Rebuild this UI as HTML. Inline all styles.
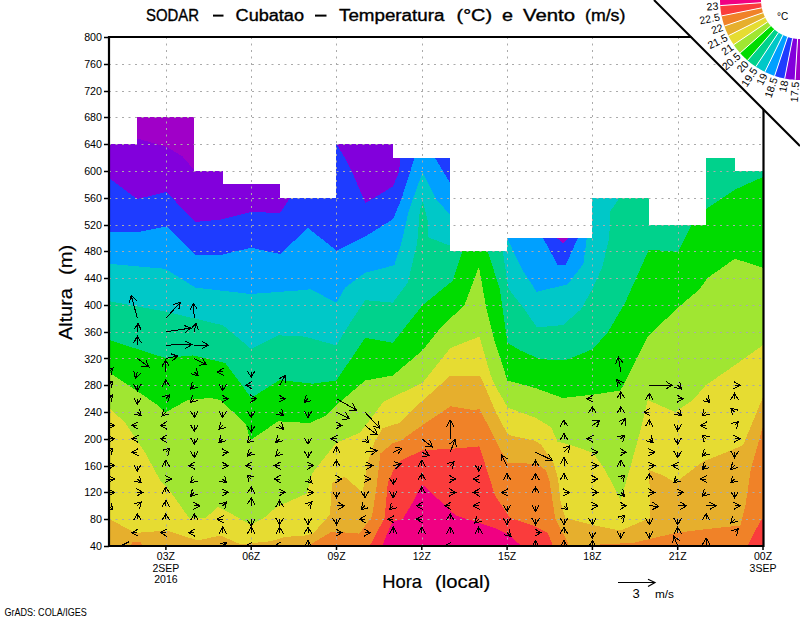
<!DOCTYPE html><html><head><meta charset="utf-8"><style>html,body{margin:0;padding:0;background:#fff;width:800px;height:618px;overflow:hidden}svg{display:block}text{font-family:"Liberation Sans",sans-serif}</style></head><body>
<svg width="800" height="618" viewBox="0 0 800 618">
<rect width="800" height="618" fill="#fff"/>
<defs><clipPath id="pc"><rect x="109" y="37" width="654" height="509"/></clipPath><clipPath id="dc"><polygon points="109.0,546.0 109.0,144.1 137.4,144.1 137.4,117.4 194.3,117.4 194.3,170.9 222.7,170.9 222.7,184.3 279.6,184.3 279.6,197.7 336.5,197.7 336.5,144.1 393.3,144.1 393.3,157.5 450.2,157.5 450.2,251.3 507.1,251.3 507.1,237.9 592.4,237.9 592.4,197.7 649.3,197.7 649.3,224.5 706.1,224.5 706.1,157.5 734.6,157.5 734.6,170.9 763.0,170.9 763.0,546.0"/></clipPath></defs>
<g clip-path="url(#pc)" shape-rendering="crispEdges">
<rect x="109" y="37" width="655" height="509" fill="rgb(160,0,200)"/>
<polygon points="95.0,25.0 137.0,25.0 137.0,138.5 166.5,146.8 182.5,156.4 195.0,171.0 195.0,25.0 556.7,25.0 556.7,237.8 563.0,243.3 569.2,237.8 569.2,25.0 775.0,25.0 775.0,560.0 95.0,560.0" fill="rgb(130,0,220)"/>
<polygon points="95.0,178.0 109.0,178.0 137.0,199.0 166.5,192.0 195.0,222.0 221.0,219.6 251.0,212.0 280.0,213.0 290.0,198.0 290.0,25.0 336.5,25.0 336.5,144.0 344.8,157.8 353.0,174.0 365.4,203.0 393.0,186.4 399.1,171.8 400.3,156.8 400.3,25.0 556.7,25.0 556.7,237.8 563.0,243.3 569.2,237.8 569.2,25.0 775.0,25.0 775.0,560.0 95.0,560.0" fill="rgb(30,60,255)"/>
<polygon points="95.0,232.0 109.0,232.0 141.0,231.5 166.5,226.5 195.0,255.0 221.0,255.0 251.0,247.7 280.0,254.0 308.0,228.0 320.0,237.5 336.5,250.7 368.0,234.8 393.0,219.2 401.6,198.5 414.9,156.8 414.9,25.0 434.3,25.0 434.3,156.8 450.8,184.0 451.0,25.0 542.9,25.0 542.9,237.8 557.9,265.4 565.5,265.4 578.0,237.8 578.0,25.0 775.0,25.0 775.0,560.0 95.0,560.0" fill="rgb(0,160,255)"/>
<polygon points="95.0,263.8 110.0,263.8 133.0,266.0 165.2,268.8 195.3,287.6 250.5,294.0 305.0,290.0 310.0,289.0 336.4,302.7 345.2,287.6 365.2,272.6 394.3,265.3 401.6,242.2 408.8,210.7 422.7,171.8 435.5,198.5 450.8,215.5 451.0,25.0 507.3,25.0 507.3,237.8 512.8,250.4 522.8,270.5 536.6,291.8 567.5,284.4 583.4,264.0 586.8,238.0 588.0,25.0 775.0,25.0 775.0,560.0 95.0,560.0" fill="rgb(0,200,200)"/>
<polygon points="95.0,301.4 110.0,301.4 165.2,311.5 223.0,325.3 251.3,349.0 278.1,335.3 305.0,336.6 336.4,345.4 350.2,322.8 365.2,300.2 392.8,302.7 407.9,282.6 417.3,242.2 419.8,210.7 422.7,201.0 428.3,222.8 428.3,237.4 450.8,245.9 451.0,25.0 501.0,25.0 500.7,238.0 508.6,289.0 524.5,309.3 536.9,327.4 563.0,325.0 581.0,309.3 592.4,289.0 602.0,268.0 609.2,238.3 610.4,211.0 619.4,198.2 619.4,25.0 775.0,25.0 775.0,560.0 95.0,560.0" fill="rgb(0,210,140)"/>
<polygon points="95.0,340.3 110.0,340.3 165.2,358.0 192.8,355.4 225.4,363.0 251.3,398.0 279.5,380.0 312.5,383.7 336.4,380.5 365.2,337.8 392.8,342.8 422.5,305.2 452.5,281.0 462.6,251.1 462.6,25.0 487.7,25.0 487.7,251.1 500.0,290.0 507.5,342.8 520.1,350.4 540.2,359.2 565.3,360.4 592.9,349.1 608.0,332.0 625.1,302.7 637.6,275.0 648.9,249.6 678.3,251.9 691.9,224.7 706.0,208.9 734.9,189.6 762.5,177.2 775.0,175.0 775.0,560.0 95.0,560.0" fill="rgb(0,220,0)"/>
<polygon points="95.0,373.0 110.0,373.0 157.7,405.0 165.2,412.5 187.8,400.0 192.8,399.3 210.4,398.0 220.4,400.0 245.5,423.8 250.5,440.2 278.1,421.3 309.6,423.0 325.1,416.0 336.4,405.0 365.2,380.5 392.8,375.5 422.5,350.4 440.5,327.8 464.4,305.2 478.9,266.7 485.7,305.2 495.0,342.8 507.5,380.5 535.2,388.0 562.8,398.0 595.4,394.3 620.5,390.5 647.7,336.6 677.8,307.7 698.7,290.0 707.7,277.9 734.9,258.7 762.5,267.7 775.0,268.0 775.0,560.0 95.0,560.0" fill="rgb(160,230,50)"/>
<polygon points="95.0,408.8 110.0,408.8 125.1,422.6 145.1,452.7 160.2,480.3 167.7,487.8 189.1,518.0 205.4,518.0 218.0,507.0 230.0,513.0 251.0,525.0 264.5,517.5 276.5,507.0 290.0,501.0 306.8,493.6 312.5,472.8 336.4,442.7 360.2,432.6 382.8,402.5 386.6,400.0 422.5,383.0 450.6,347.9 479.4,336.6 490.7,375.5 495.0,385.5 506.3,405.0 507.5,407.5 535.2,417.6 551.0,427.0 557.4,441.5 570.3,445.0 592.9,452.7 605.4,470.3 620.5,500.4 628.0,475.3 640.5,430.1 647.7,400.0 675.0,412.0 693.0,400.0 705.4,385.5 738.0,363.0 762.6,345.4 775.0,344.0 775.0,560.0 95.0,560.0" fill="rgb(230,220,50)"/>
<polygon points="95.0,519.2 110.0,519.2 135.1,533.0 166.5,530.5 197.9,540.5 220.4,535.5 240.5,544.3 267.5,541.5 275.0,540.0 284.0,537.0 305.0,535.5 313.0,533.6 330.0,514.6 332.0,483.0 344.7,476.8 362.6,492.6 367.8,462.0 374.0,443.0 382.5,428.4 400.4,422.6 420.5,402.5 450.6,375.5 479.4,375.5 482.1,380.0 495.9,412.4 507.2,433.4 512.0,435.8 534.7,440.7 541.2,444.7 554.1,464.1 558.2,480.0 560.2,500.4 565.3,518.0 595.4,525.5 620.5,530.5 650.0,518.0 649.3,470.3 663.1,475.3 675.3,482.8 702.9,461.5 725.5,452.7 743.0,445.2 755.6,415.0 762.6,398.0 775.0,385.0 775.0,560.0 95.0,560.0" fill="rgb(230,175,45)"/>
<polygon points="124.0,560.0 132.0,542.5 140.0,541.5 152.0,560.0" fill="rgb(240,130,40)"/>
<polygon points="305.0,560.0 311.0,544.0 332.0,531.5 359.4,533.6 372.0,516.7 376.2,489.4 380.4,453.6 393.0,443.0 400.0,441.0 422.5,425.1 450.6,406.3 473.1,410.0 479.7,409.1 484.6,418.8 507.2,462.5 538.0,464.1 546.0,470.6 549.3,480.0 555.2,518.0 567.8,543.0 572.0,560.0" fill="rgb(240,130,40)"/>
<polygon points="598.0,560.0 600.0,544.3 632.6,543.0 675.3,533.0 705.4,529.2 740.5,525.5 745.5,505.4 750.6,470.3 762.6,427.6 775.0,420.0 775.0,560.0" fill="rgb(240,130,40)"/>
<polygon points="367.0,560.0 370.3,544.8 384.6,517.9 387.8,482.9 393.6,470.0 400.0,461.0 422.5,450.2 450.6,448.9 479.4,446.4 495.0,495.4 510.1,518.0 532.6,525.5 547.7,533.0 552.7,545.0 554.0,560.0" fill="rgb(250,60,60)"/>
<polygon points="745.0,560.0 748.0,545.0 760.6,520.5 775.0,512.0 775.0,560.0" fill="rgb(250,60,60)"/>
<polygon points="380.0,560.0 382.6,544.8 392.3,521.7 402.7,519.2 414.3,499.8 422.1,484.2 455.6,515.4 495.0,528.0 510.1,535.5 520.1,545.0 522.0,560.0" fill="rgb(240,0,130)"/>
<polygon points="108,30 109,144 137,144 137,117 194,117 194,171 223,171 223,184 280,184 280,198 336,198 336,144 393,144 393,158 450,158 450,251 507,251 507,238 592,238 592,198 649,198 649,225 706,225 706,158 735,158 735,171 763,171 770,171 770,30" fill="#fff"/>
</g>
<path d="M166.5,37V546 M251.5,37V546 M336.5,37V546 M422.5,37V546 M507.5,37V546 M592.5,37V546 M678.5,37V546 M109,519.5H763 M109,492.5H763 M109,466.5H763 M109,439.5H763 M109,412.5H763 M109,385.5H763 M109,358.5H763 M109,332.5H763 M109,305.5H763 M109,278.5H763 M109,251.5H763 M109,225.5H763 M109,198.5H763 M109,171.5H763 M109,144.5H763 M109,117.5H763 M109,91.5H763 M109,64.5H763" stroke="rgb(170,170,170)" stroke-width="1" stroke-dasharray="2,4.5" fill="none"/>
<g clip-path="url(#pc)">
<path d="M109.0,371.9L112.9,368.0M105.6,369.9L112.9,368.0L110.9,375.2M109.0,385.3L112.9,381.4M105.6,383.3L112.9,381.4L110.9,388.6M109.0,398.7L112.9,394.8M105.6,396.7L112.9,394.8L110.9,402.0M109.0,425.4L114.5,425.4M108.0,421.7L114.5,425.4L108.0,429.2M109.0,438.8L114.5,438.8M108.0,435.1L114.5,438.8L108.0,442.6M109.0,452.2L112.9,448.3M105.6,450.3L112.9,448.3L110.9,455.6M109.0,465.6L114.5,465.6M108.0,461.9L114.5,465.6L108.0,469.4M109.0,479.0L114.5,479.0M108.0,475.3L114.5,479.0L108.0,482.8M109.0,492.4L114.5,492.4M108.0,488.7L114.5,492.4L108.0,496.2M109.0,505.8L112.9,509.7M110.9,502.5L112.9,509.7L105.6,507.8M137.4,318.3L131.2,295.5M129.3,302.7L131.2,295.5L136.6,300.8M137.4,331.7L138.1,323.5M133.8,329.6L138.1,323.5L141.3,330.3M137.4,345.1L137.4,336.2M133.7,342.7L137.4,336.2L141.2,342.7M137.4,358.5L148.8,367.0M145.9,360.1L148.8,367.0L141.4,366.1M137.4,371.9L135.2,378.2M140.9,373.3L135.2,378.2L133.8,370.8M137.4,385.3L137.4,390.8M141.2,384.3L137.4,390.8L133.7,384.3M137.4,398.7L137.4,404.2M141.2,397.7L137.4,404.2L133.7,397.7M137.4,412.1L141.3,415.9M139.4,408.7L141.3,415.9L134.1,414.0M137.4,425.4L131.9,425.4M138.4,429.2L131.9,425.4L138.4,421.7M137.4,438.8L131.9,438.8M138.4,442.6L131.9,438.8L138.4,435.1M137.4,452.2L131.9,452.2M138.4,456.0L131.9,452.2L138.4,448.5M137.4,465.6L137.4,471.1M141.2,464.6L137.4,471.1L133.7,464.6M137.4,479.0L141.3,482.9M139.4,475.7L141.3,482.9L134.1,481.0M137.4,492.4L142.9,492.4M136.4,488.7L142.9,492.4L136.4,496.2M137.4,505.8L141.3,501.9M134.1,503.9L141.3,501.9L139.4,509.2M137.4,519.2L137.4,513.7M133.7,520.2L137.4,513.7L141.2,520.2M137.4,532.6L131.9,532.6M138.4,536.4L131.9,532.6L138.4,528.9M137.4,546.0L122.4,545.0M128.7,549.2L122.4,545.0L129.2,541.7M165.9,318.3L180.4,302.2M173.2,304.5L180.4,302.2L178.8,309.5M165.9,331.7L190.7,328.1M183.7,325.3L190.7,328.1L184.8,332.7M165.9,345.1L191.9,344.6M185.3,341.0L191.9,344.6L185.4,348.4M165.9,358.5L177.7,356.1M170.6,353.7L177.7,356.1L172.1,361.0M165.9,371.9L165.4,360.1M161.9,366.7L165.4,360.1L169.4,366.4M165.9,385.3L165.9,379.8M162.1,386.3L165.9,379.8L169.6,386.3M165.9,398.7L169.8,394.8M162.5,396.7L169.8,394.8L167.8,402.0M165.9,412.1L162.0,415.9M169.2,414.0L162.0,415.9L163.9,408.7M165.9,425.4L160.4,425.4M166.9,429.2L160.4,425.4L166.9,421.7M165.9,438.8L160.4,438.8M166.9,442.6L160.4,438.8L166.9,435.1M165.9,452.2L169.8,448.3M162.5,450.3L169.8,448.3L167.8,455.6M165.9,465.6L165.9,460.1M162.1,466.6L165.9,460.1L169.6,466.6M165.9,479.0L171.4,479.0M164.9,475.3L171.4,479.0L164.9,482.8M165.9,492.4L165.9,486.9M162.1,493.4L165.9,486.9L169.6,493.4M165.9,505.8L165.9,500.3M162.1,506.8L165.9,500.3L169.6,506.8M165.9,519.2L165.9,513.7M162.1,520.2L165.9,513.7L169.6,520.2M165.9,532.6L160.4,532.6M166.9,536.4L160.4,532.6L166.9,528.9M194.3,318.3L193.4,303.3M190.1,310.0L193.4,303.3L197.5,309.5M194.3,331.7L196.1,323.2M191.1,328.8L196.1,323.2L198.4,330.3M194.3,345.1L208.3,345.1M201.8,341.3L208.3,345.1L201.8,348.8M194.3,358.5L206.6,364.8M202.5,358.5L206.6,364.8L199.1,365.1M194.3,371.9L198.2,375.8M196.3,368.5L198.2,375.8L190.9,373.8M194.3,385.3L190.4,389.1M197.7,387.2L190.4,389.1L192.4,381.9M194.3,398.7L190.4,402.5M197.7,400.6L190.4,402.5L192.4,395.3M194.3,412.1L194.3,417.6M198.1,411.1L194.3,417.6L190.6,411.1M194.3,425.4L194.3,431.4M198.1,424.9L194.3,431.4L190.6,424.9M194.3,438.8L194.3,444.3M198.1,437.8L194.3,444.3L190.6,437.8M194.3,452.2L194.3,457.7M198.1,451.2L194.3,457.7L190.6,451.2M194.3,465.6L188.8,465.6M195.3,469.4L188.8,465.6L195.3,461.9M194.3,479.0L190.4,482.9M197.7,481.0L190.4,482.9L192.4,475.7M194.3,492.4L190.4,496.3M197.7,494.4L190.4,496.3L192.4,489.1M194.3,505.8L199.8,505.8M193.3,502.1L199.8,505.8L193.3,509.6M194.3,519.2L194.3,513.7M190.6,520.2L194.3,513.7L198.1,520.2M194.3,532.6L188.8,532.6M195.3,536.4L188.8,532.6L195.3,528.9M222.7,371.9L217.2,371.9M223.7,375.6L217.2,371.9L223.7,368.1M222.7,385.3L222.7,390.8M226.5,384.3L222.7,390.8L219.0,384.3M222.7,398.7L228.2,398.7M221.7,394.9L228.2,398.7L221.7,402.4M222.7,412.1L222.7,417.6M226.5,411.1L222.7,417.6L219.0,411.1M222.7,425.4L218.9,429.3M226.1,427.4L218.9,429.3L220.8,422.1M222.7,438.8L218.9,442.7M226.1,440.8L218.9,442.7L220.8,435.5M222.7,452.2L228.2,452.2M221.7,448.5L228.2,452.2L221.7,456.0M222.7,465.6L228.2,465.6M221.7,461.9L228.2,465.6L221.7,469.4M222.7,479.0L226.6,482.9M224.7,475.7L226.6,482.9L219.4,481.0M222.7,492.4L228.2,492.4M221.7,488.7L228.2,492.4L221.7,496.2M222.7,505.8L226.6,501.9M219.4,503.9L226.6,501.9L224.7,509.2M222.7,519.2L217.2,519.2M223.7,523.0L217.2,519.2L223.7,515.5M222.7,532.6L222.7,527.1M219.0,533.6L222.7,527.1L226.5,533.6M222.7,546.0L226.6,542.1M219.4,544.1L226.6,542.1L224.7,549.4M251.2,371.9L251.2,377.4M254.9,370.9L251.2,377.4L247.4,370.9M251.2,385.3L245.7,385.3M252.2,389.0L245.7,385.3L252.2,381.5M251.2,398.7L256.7,398.7M250.2,394.9L256.7,398.7L250.2,402.4M251.2,412.1L251.2,417.6M254.9,411.1L251.2,417.6L247.4,411.1M251.2,425.4L251.2,432.4M254.9,425.9L251.2,432.4L247.4,425.9M251.2,438.8L247.3,442.7M254.5,440.8L247.3,442.7L249.2,435.5M251.2,452.2L247.3,456.1M254.5,454.2L247.3,456.1L249.2,448.9M251.2,465.6L245.7,465.6M252.2,469.4L245.7,465.6L252.2,461.9M251.2,479.0L247.3,475.1M249.2,482.4L247.3,475.1L254.5,477.1M251.2,492.4L251.2,486.9M247.4,493.4L251.2,486.9L254.9,493.4M251.2,505.8L251.2,497.8M247.4,504.3L251.2,497.8L254.9,504.3M251.2,519.2L251.2,526.2M254.9,519.7L251.2,526.2L247.4,519.7M251.2,532.6L251.2,527.1M247.4,533.6L251.2,527.1L254.9,533.6M251.2,546.0L245.7,546.0M252.2,549.8L245.7,546.0L252.2,542.2M279.6,385.3L285.2,375.3M278.8,379.1L285.2,375.3L285.3,382.8M279.6,398.7L285.1,398.7M278.6,394.9L285.1,398.7L278.6,402.4M279.6,412.1L283.5,415.9M281.6,408.7L283.5,415.9L276.3,414.0M279.6,425.4L283.5,429.3M281.6,422.1L283.5,429.3L276.3,427.4M279.6,438.8L275.7,442.7M283.0,440.8L275.7,442.7L277.7,435.5M279.6,452.2L275.7,456.1M283.0,454.2L275.7,456.1L277.7,448.9M279.6,465.6L274.1,465.6M280.6,469.4L274.1,465.6L280.6,461.9M279.6,479.0L274.1,479.0M280.6,482.8L274.1,479.0L280.6,475.3M279.6,492.4L285.1,492.4M278.6,488.7L285.1,492.4L278.6,496.2M279.6,505.8L279.6,500.3M275.9,506.8L279.6,500.3L283.4,506.8M279.6,519.2L279.6,524.7M283.4,518.2L279.6,524.7L275.9,518.2M279.6,532.6L279.6,527.1M275.9,533.6L279.6,527.1L283.4,533.6M279.6,546.0L274.1,546.0M280.6,549.8L274.1,546.0L280.6,542.2M308.0,398.7L304.2,402.5M311.4,400.6L304.2,402.5L306.1,395.3M308.0,412.1L308.0,417.6M311.8,411.1L308.0,417.6L304.3,411.1M308.0,438.8L308.0,444.3M311.8,437.8L308.0,444.3L304.3,437.8M308.0,452.2L308.0,457.7M311.8,451.2L308.0,457.7L304.3,451.2M308.0,465.6L313.5,465.6M307.0,461.9L313.5,465.6L307.0,469.4M308.0,479.0L311.9,482.9M310.0,475.7L311.9,482.9L304.7,481.0M308.0,492.4L313.5,492.4M307.0,488.7L313.5,492.4L307.0,496.2M308.0,505.8L311.9,501.9M304.7,503.9L311.9,501.9L310.0,509.2M308.0,519.2L308.0,524.7M311.8,518.2L308.0,524.7L304.3,518.2M308.0,532.6L308.0,527.1M304.3,533.6L308.0,527.1L311.8,533.6M308.0,546.0L308.0,540.5M304.3,547.0L308.0,540.5L311.8,547.0M336.5,398.7L356.3,410.0M352.5,403.5L356.3,410.0L348.8,410.0M336.5,412.1L349.5,418.9M345.5,412.5L349.5,418.9L342.0,419.2M336.5,425.4L342.0,425.4M335.5,421.7L342.0,425.4L335.5,429.2M336.5,438.8L331.0,438.8M337.5,442.6L331.0,438.8L337.5,435.1M336.5,452.2L336.5,446.7M332.7,453.2L336.5,446.7L340.2,453.2M336.5,465.6L336.5,460.1M332.7,466.6L336.5,460.1L340.2,466.6M336.5,479.0L342.0,479.0M335.5,475.3L342.0,479.0L335.5,482.8M336.5,492.4L336.5,497.9M340.2,491.4L336.5,497.9L332.7,491.4M336.5,505.8L344.5,505.8M338.0,502.1L344.5,505.8L338.0,509.6M336.5,519.2L336.5,524.7M340.2,518.2L336.5,524.7L332.7,518.2M336.5,532.6L342.0,532.6M335.5,528.9L342.0,532.6L335.5,536.4M364.9,412.1L379.7,428.1M378.1,420.7L379.7,428.1L372.6,425.8M364.9,425.4L377.5,434.9M374.6,428.0L377.5,434.9L370.1,434.0M364.9,438.8L368.8,442.7M366.9,435.5L368.8,442.7L361.6,440.8M364.9,452.2L376.9,450.6M370.0,447.8L376.9,450.6L371.0,455.2M364.9,465.6L372.9,465.6M366.4,461.9L372.9,465.6L366.4,469.4M364.9,479.0L370.4,479.0M363.9,475.3L370.4,479.0L363.9,482.8M364.9,492.4L364.9,497.9M368.7,491.4L364.9,497.9L361.2,491.4M364.9,505.8L361.0,509.7M368.3,507.8L361.0,509.7L363.0,502.5M364.9,519.2L359.4,519.2M365.9,523.0L359.4,519.2L365.9,515.5M364.9,532.6L370.4,532.6M363.9,528.9L370.4,532.6L363.9,536.4M393.3,452.2L402.1,448.2M394.7,447.5L402.1,448.2L397.8,454.3M393.3,465.6L400.9,463.8M393.8,461.7L400.9,463.8L395.5,469.0M393.3,479.0L393.3,484.5M397.1,478.0L393.3,484.5L389.6,478.0M393.3,492.4L393.3,497.9M397.1,491.4L393.3,497.9L389.6,491.4M393.3,505.8L389.5,509.7M396.7,507.8L389.5,509.7L391.4,502.5M393.3,519.2L387.8,519.2M394.3,523.0L387.8,519.2L394.3,515.5M393.3,532.6L393.3,527.1M389.6,533.6L393.3,527.1L397.1,533.6M421.8,438.8L432.6,447.1M429.7,440.2L432.6,447.1L425.1,446.2M421.8,452.2L429.2,455.8M425.0,449.6L429.2,455.8L421.7,456.4M421.8,465.6L421.8,460.1M418.0,466.6L421.8,460.1L425.5,466.6M421.8,479.0L421.8,473.5M418.0,480.0L421.8,473.5L425.5,480.0M421.8,492.4L421.8,486.9M418.0,493.4L421.8,486.9L425.5,493.4M421.8,505.8L416.3,505.8M422.8,509.6L416.3,505.8L422.8,502.1M421.8,519.2L416.3,519.2M422.8,523.0L416.3,519.2L422.8,515.5M421.8,532.6L421.8,527.1M418.0,533.6L421.8,527.1L425.5,533.6M450.2,438.8L450.2,420.1M446.5,426.6L450.2,420.1L454.0,426.6M450.2,452.2L455.2,439.4M449.4,444.1L455.2,439.4L456.3,446.8M450.2,465.6L454.1,461.7M446.9,463.7L454.1,461.7L452.2,469.0M450.2,479.0L455.7,479.0M449.2,475.3L455.7,479.0L449.2,482.8M450.2,492.4L455.7,492.4M449.2,488.7L455.7,492.4L449.2,496.2M450.2,505.8L444.7,505.8M451.2,509.6L444.7,505.8L451.2,502.1M450.2,519.2L450.2,513.7M446.5,520.2L450.2,513.7L454.0,520.2M450.2,532.6L450.2,527.1M446.5,533.6L450.2,527.1L454.0,533.6M450.2,546.0L444.7,546.0M451.2,549.8L444.7,546.0L451.2,542.2M478.7,465.6L478.7,471.1M482.4,464.6L478.7,471.1L474.9,464.6M478.7,479.0L473.2,479.0M479.7,482.8L473.2,479.0L479.7,475.3M478.7,492.4L473.2,492.4M479.7,496.2L473.2,492.4L479.7,488.7M478.7,505.8L473.2,505.8M479.7,509.6L473.2,505.8L479.7,502.1M478.7,519.2L474.8,523.1M482.0,521.2L474.8,523.1L476.7,515.9M478.7,532.6L478.7,527.1M474.9,533.6L478.7,527.1L482.4,533.6M507.1,465.6L501.1,454.8M501.0,462.3L501.1,454.8L507.5,458.7M507.1,479.0L507.1,473.5M503.3,480.0L507.1,473.5L510.8,480.0M507.1,492.4L501.6,492.4M508.1,496.2L501.6,492.4L508.1,488.7M507.1,505.8L507.1,511.3M510.8,504.8L507.1,511.3L503.3,504.8M507.1,519.2L507.1,524.7M510.8,518.2L507.1,524.7L503.3,518.2M507.1,532.6L511.0,536.5M509.0,529.2L511.0,536.5L503.7,534.6M535.5,452.2L552.4,460.3M548.2,454.1L552.4,460.3L544.9,460.9M535.5,465.6L535.5,460.1M531.8,466.6L535.5,460.1L539.3,466.6M535.5,479.0L535.5,473.5M531.8,480.0L535.5,473.5L539.3,480.0M535.5,492.4L535.5,486.9M531.8,493.4L535.5,486.9L539.3,493.4M535.5,505.8L535.5,511.3M539.3,504.8L535.5,511.3L531.8,504.8M535.5,519.2L535.5,524.7M539.3,518.2L535.5,524.7L531.8,518.2M535.5,532.6L541.0,532.6M534.5,528.9L541.0,532.6L534.5,536.4M535.5,546.0L535.5,540.5M531.8,547.0L535.5,540.5L539.3,547.0M564.0,425.4L564.0,419.9M560.2,426.4L564.0,419.9L567.7,426.4M564.0,438.8L564.0,433.3M560.2,439.8L564.0,433.3L567.7,439.8M564.0,452.2L569.9,445.7M562.7,448.0L569.9,445.7L568.3,453.1M564.0,465.6L564.0,457.6M560.2,464.1L564.0,457.6L567.7,464.1M564.0,479.0L564.0,473.5M560.2,480.0L564.0,473.5L567.7,480.0M564.0,492.4L569.5,492.4M563.0,488.7L569.5,492.4L563.0,496.2M564.0,505.8L567.8,509.7M565.9,502.5L567.8,509.7L560.6,507.8M564.0,519.2L564.0,524.7M567.7,518.2L564.0,524.7L560.2,518.2M564.0,532.6L564.0,527.1M560.2,533.6L564.0,527.1L567.7,533.6M564.0,546.0L564.0,540.5M560.2,547.0L564.0,540.5L567.7,547.0M592.4,398.7L586.9,398.7M593.4,402.4L586.9,398.7L593.4,394.9M592.4,412.1L592.4,406.6M588.6,413.0L592.4,406.6L596.1,413.0M592.4,425.4L600.0,420.2M592.5,420.8L600.0,420.2L596.8,427.0M592.4,438.8L586.9,438.8M593.4,442.6L586.9,438.8L593.4,435.1M592.4,452.2L597.9,452.2M591.4,448.5L597.9,452.2L591.4,456.0M592.4,465.6L597.9,465.6M591.4,461.9L597.9,465.6L591.4,469.4M592.4,479.0L597.9,479.0M591.4,475.3L597.9,479.0L591.4,482.8M592.4,492.4L597.9,492.4M591.4,488.7L597.9,492.4L591.4,496.2M592.4,505.8L597.9,505.8M591.4,502.1L597.9,505.8L591.4,509.6M592.4,519.2L592.4,524.7M596.1,518.2L592.4,524.7L588.6,518.2M592.4,532.6L592.4,538.1M596.1,531.6L592.4,538.1L588.6,531.6M592.4,546.0L592.4,540.5M588.6,547.0L592.4,540.5L596.1,547.0M620.8,371.9L618.3,356.9M615.7,363.9L618.3,356.9L623.1,362.7M620.8,385.3L616.8,379.3M617.3,386.7L616.8,379.3L623.6,382.6M620.8,398.7L620.8,391.7M617.1,398.2L620.8,391.7L624.6,398.2M620.8,412.1L620.8,406.6M617.1,413.0L620.8,406.6L624.6,413.0M620.8,425.4L625.8,418.0M619.1,421.3L625.8,418.0L625.3,425.5M620.8,438.8L624.7,435.0M617.5,436.9L624.7,435.0L622.8,442.2M620.8,452.2L626.3,452.2M619.8,448.5L626.3,452.2L619.8,456.0M620.8,465.6L620.8,460.1M617.1,466.6L620.8,460.1L624.6,466.6M620.8,479.0L624.7,475.1M617.5,477.1L624.7,475.1L622.8,482.4M620.8,492.4L624.7,496.3M622.8,489.1L624.7,496.3L617.5,494.4M620.8,505.8L626.3,505.8M619.8,502.1L626.3,505.8L619.8,509.6M620.8,519.2L624.7,515.3M617.5,517.3L624.7,515.3L622.8,522.6M620.8,532.6L620.8,538.1M624.6,531.6L620.8,538.1L617.1,531.6M649.3,385.3L672.3,385.3M665.8,381.5L672.3,385.3L665.8,389.0M649.3,398.7L649.3,393.2M645.5,399.7L649.3,393.2L653.0,399.7M649.3,412.1L643.8,412.1M650.3,415.8L643.8,412.1L650.3,408.3M649.3,425.4L649.3,419.9M645.5,426.4L649.3,419.9L653.0,426.4M649.3,438.8L653.2,442.7M651.2,435.5L653.2,442.7L645.9,440.8M649.3,452.2L654.8,452.2M648.3,448.5L654.8,452.2L648.3,456.0M649.3,465.6L654.8,465.6M648.3,461.9L654.8,465.6L648.3,469.4M649.3,479.0L649.3,473.5M645.5,480.0L649.3,473.5L653.0,480.0M649.3,492.4L654.8,492.4M648.3,488.7L654.8,492.4L648.3,496.2M649.3,505.8L658.8,506.3M652.5,502.2L658.8,506.3L652.1,509.7M649.3,519.2L649.3,524.7M653.0,518.2L649.3,524.7L645.5,518.2M649.3,532.6L649.3,538.1M653.0,531.6L649.3,538.1L645.5,531.6M677.7,385.3L681.6,389.1M679.6,381.9L681.6,389.1L674.3,387.2M677.7,398.7L683.2,398.7M676.7,394.9L683.2,398.7L676.7,402.4M677.7,412.1L681.6,415.9M679.6,408.7L681.6,415.9L674.3,414.0M677.7,425.4L677.7,430.9M681.4,424.4L677.7,430.9L673.9,424.4M677.7,438.8L677.7,444.3M681.4,437.8L677.7,444.3L673.9,437.8M677.7,452.2L677.7,457.7M681.4,451.2L677.7,457.7L673.9,451.2M677.7,465.6L672.2,465.6M678.7,469.4L672.2,465.6L678.7,461.9M677.7,479.0L673.8,482.9M681.1,481.0L673.8,482.9L675.8,475.7M677.7,492.4L683.2,492.4M676.7,488.7L683.2,492.4L676.7,496.2M677.7,505.8L686.7,505.8M680.2,502.1L686.7,505.8L680.2,509.6M677.7,519.2L677.7,524.7M681.4,518.2L677.7,524.7L673.9,518.2M677.7,532.6L677.7,527.1M673.9,533.6L677.7,527.1L681.4,533.6M677.7,546.0L673.7,536.0M672.6,543.4L673.7,536.0L679.6,540.6M706.1,398.7L710.0,402.5M708.1,395.3L710.0,402.5L702.8,400.6M706.1,412.1L702.2,415.9M709.5,414.0L702.2,415.9L704.2,408.7M706.1,425.4L700.6,425.4M707.1,429.2L700.6,425.4L707.1,421.7M706.1,438.8L702.2,435.0M704.2,442.2L702.2,435.0L709.5,436.9M706.1,452.2L702.2,456.1M709.5,454.2L702.2,456.1L704.2,448.9M706.1,465.6L702.2,469.5M709.5,467.6L702.2,469.5L704.2,462.3M706.1,479.0L700.6,479.0M707.1,482.8L700.6,479.0L707.1,475.3M706.1,492.4L702.2,496.3M709.5,494.4L702.2,496.3L704.2,489.1M706.1,505.8L716.1,505.8M709.6,502.1L716.1,505.8L709.6,509.6M706.1,519.2L706.1,513.7M702.4,520.2L706.1,513.7L709.9,520.2M706.1,546.0L706.1,538.0M702.4,544.5L706.1,538.0L709.9,544.5M734.6,385.3L740.1,385.3M733.6,381.5L740.1,385.3L733.6,389.0M734.6,398.7L734.6,393.2M730.8,399.7L734.6,393.2L738.3,399.7M734.6,412.1L730.7,408.2M732.6,415.4L730.7,408.2L737.9,410.1M734.6,425.4L738.5,421.6M731.2,423.5L738.5,421.6L736.5,428.8M734.6,438.8L740.1,438.8M733.6,435.1L740.1,438.8L733.6,442.6M734.6,452.2L734.6,457.7M738.3,451.2L734.6,457.7L730.8,451.2M734.6,465.6L730.7,469.5M737.9,467.6L730.7,469.5L732.6,462.3M734.6,479.0L730.7,482.9M737.9,481.0L730.7,482.9L732.6,475.7M734.6,492.4L734.6,497.9M738.3,491.4L734.6,497.9L730.8,491.4M734.6,505.8L740.1,505.8M733.6,502.1L740.1,505.8L733.6,509.6M734.6,519.2L730.7,523.1M737.9,521.2L730.7,523.1L732.6,515.9M734.6,532.6L738.5,528.7M731.2,530.7L738.5,528.7L736.5,536.0" stroke="#000" stroke-width="1" fill="none" shape-rendering="crispEdges"/>
</g>
<path d="M109,37V546H763.5V37Z" stroke="#000" stroke-width="2.2" fill="none"/>
<path d="M104,546.5H109 M104,519.5H109 M104,492.5H109 M104,466.5H109 M104,439.5H109 M104,412.5H109 M104,385.5H109 M104,358.5H109 M104,332.5H109 M104,305.5H109 M104,278.5H109 M104,251.5H109 M104,225.5H109 M104,198.5H109 M104,171.5H109 M104,144.5H109 M104,117.5H109 M104,91.5H109 M104,64.5H109 M104,37.5H109" stroke="#000" stroke-width="1.5"/>
<text x="102" y="550.0" font-size="10.7" text-anchor="end">40</text>
<text x="102" y="523.2" font-size="10.7" text-anchor="end">80</text>
<text x="102" y="496.4" font-size="10.7" text-anchor="end">120</text>
<text x="102" y="469.6" font-size="10.7" text-anchor="end">160</text>
<text x="102" y="442.8" font-size="10.7" text-anchor="end">200</text>
<text x="102" y="416.1" font-size="10.7" text-anchor="end">240</text>
<text x="102" y="389.3" font-size="10.7" text-anchor="end">280</text>
<text x="102" y="362.5" font-size="10.7" text-anchor="end">320</text>
<text x="102" y="335.7" font-size="10.7" text-anchor="end">360</text>
<text x="102" y="308.9" font-size="10.7" text-anchor="end">400</text>
<text x="102" y="282.1" font-size="10.7" text-anchor="end">440</text>
<text x="102" y="255.3" font-size="10.7" text-anchor="end">480</text>
<text x="102" y="228.5" font-size="10.7" text-anchor="end">520</text>
<text x="102" y="201.7" font-size="10.7" text-anchor="end">560</text>
<text x="102" y="174.9" font-size="10.7" text-anchor="end">600</text>
<text x="102" y="148.1" font-size="10.7" text-anchor="end">640</text>
<text x="102" y="121.4" font-size="10.7" text-anchor="end">680</text>
<text x="102" y="94.6" font-size="10.7" text-anchor="end">720</text>
<text x="102" y="67.8" font-size="10.7" text-anchor="end">760</text>
<text x="102" y="41.0" font-size="10.7" text-anchor="end">800</text>
<text x="165.9" y="559.6" font-size="10.5" text-anchor="middle">03Z</text>
<text x="251.2" y="559.6" font-size="10.5" text-anchor="middle">06Z</text>
<text x="336.5" y="559.6" font-size="10.5" text-anchor="middle">09Z</text>
<text x="421.8" y="559.6" font-size="10.5" text-anchor="middle">12Z</text>
<text x="507.1" y="559.6" font-size="10.5" text-anchor="middle">15Z</text>
<text x="592.4" y="559.6" font-size="10.5" text-anchor="middle">18Z</text>
<text x="677.7" y="559.6" font-size="10.5" text-anchor="middle">21Z</text>
<text x="763.0" y="559.6" font-size="10.5" text-anchor="middle">00Z</text>
<path d="M165.9,546V550 M251.2,546V550 M336.5,546V550 M421.8,546V550 M507.1,546V550 M592.4,546V550 M677.7,546V550 M763.0,546V550" stroke="#000" stroke-width="1.5"/>
<text x="165.9" y="571.6" font-size="10.5" text-anchor="middle">2SEP</text>
<text x="165.9" y="582.6" font-size="10.5" text-anchor="middle">2016</text>
<text x="763.0" y="571.6" font-size="10.5" text-anchor="middle">3SEP</text>
<text x="146" y="20.8" font-size="16" textLength="53.0" lengthAdjust="spacingAndGlyphs" stroke="#000" stroke-width="0.35" >SODAR</text>
<text x="235.6" y="20.8" font-size="16" textLength="68.4" lengthAdjust="spacingAndGlyphs" stroke="#000" stroke-width="0.35" >Cubatao</text>
<text x="339" y="20.8" font-size="16" textLength="105.4" lengthAdjust="spacingAndGlyphs" stroke="#000" stroke-width="0.35" >Temperatura</text>
<text x="456.6" y="20.8" font-size="16" textLength="35.4" lengthAdjust="spacingAndGlyphs" stroke="#000" stroke-width="0.35" >(°C)</text>
<text x="502" y="20.8" font-size="16" textLength="11.0" lengthAdjust="spacingAndGlyphs" stroke="#000" stroke-width="0.35" >e</text>
<text x="523" y="20.8" font-size="16" textLength="52.0" lengthAdjust="spacingAndGlyphs" stroke="#000" stroke-width="0.35" >Vento</text>
<text x="585" y="20.8" font-size="16" textLength="40.4" lengthAdjust="spacingAndGlyphs" stroke="#000" stroke-width="0.35" >(m/s)</text>
<rect x="213" y="14.6" width="10.5" height="2" fill="#000"/>
<rect x="315" y="14.6" width="11.5" height="2" fill="#000"/>
<text x="382.2" y="587.6" font-size="19" textLength="39.8" lengthAdjust="spacingAndGlyphs" stroke="#000" stroke-width="0.35" style="stroke-width:0.2">Hora</text>
<text x="435" y="587.6" font-size="19" textLength="55.2" lengthAdjust="spacingAndGlyphs" stroke="#000" stroke-width="0.35" style="stroke-width:0.2">(local)</text>
<text transform="translate(72.2,339.9) rotate(-90)" font-size="19" textLength="51.6" lengthAdjust="spacingAndGlyphs" stroke="#000" stroke-width="0.2">Altura</text>
<text transform="translate(72.2,275) rotate(-90)" font-size="19" textLength="30.2" lengthAdjust="spacingAndGlyphs" stroke="#000" stroke-width="0.2">(m)</text>
<text x="4.4" y="615.6" font-size="10.3" textLength="82.5" lengthAdjust="spacingAndGlyphs">GrADS: COLA/IGES</text>
<path d="M618,582.5H655M648,579.2L655,582.5L648,586.5" stroke="#000" stroke-width="1.2" fill="none"/>
<text x="632.5" y="597.5" font-size="13">3</text>
<text x="655" y="597.5" font-size="11" textLength="19" lengthAdjust="spacingAndGlyphs">m/s</text>
<polygon points="654,-1 801,-1 801,146" fill="#fff"/>
<path d="M654,0L800,146" stroke="#000" stroke-width="2"/>
<polygon points="813.9,78.8 811.6,79.2 809.2,79.5 806.9,79.7 804.5,79.9 802.2,80.0 799.8,80.0 797.5,80.0 795.1,79.9 797.6,38.9 798.8,39.0 799.9,39.0 801.1,39.0 802.2,38.9 803.4,38.9 804.5,38.7 805.6,38.6 806.8,38.4" fill="rgb(160,0,200)"/>
<polygon points="795.1,79.9 793.8,79.8 792.5,79.6 791.2,79.5 789.9,79.4 788.6,79.2 787.3,79.0 786.0,78.8 784.7,78.5 792.6,38.3 793.2,38.4 793.8,38.5 794.4,38.6 795.1,38.7 795.7,38.8 796.3,38.8 797.0,38.9 797.6,38.9" fill="rgb(130,0,220)"/>
<polygon points="784.7,78.5 783.5,78.3 782.2,78.0 780.9,77.7 779.6,77.4 778.4,77.0 777.1,76.7 775.9,76.3 774.6,75.9 787.6,37.0 788.2,37.2 788.8,37.4 789.5,37.5 790.1,37.7 790.7,37.9 791.3,38.0 791.9,38.2 792.6,38.3" fill="rgb(30,60,255)"/>
<polygon points="774.6,75.9 773.4,75.4 772.1,75.0 770.9,74.5 769.7,74.0 768.5,73.5 767.3,73.0 766.1,72.5 764.9,71.9 782.9,35.1 783.5,35.3 784.1,35.6 784.6,35.8 785.2,36.1 785.8,36.3 786.4,36.6 787.0,36.8 787.6,37.0" fill="rgb(0,160,255)"/>
<polygon points="764.9,71.9 763.8,71.3 762.6,70.7 761.4,70.1 760.3,69.5 759.2,68.8 758.1,68.1 756.9,67.4 755.8,66.7 778.5,32.5 779.0,32.9 779.6,33.2 780.1,33.5 780.6,33.9 781.2,34.2 781.8,34.5 782.3,34.8 782.9,35.1" fill="rgb(0,200,200)"/>
<polygon points="755.8,66.7 754.8,66.0 753.7,65.2 752.6,64.5 751.6,63.7 750.5,62.9 749.5,62.1 748.5,61.2 747.5,60.4 774.4,29.4 774.9,29.8 775.4,30.3 775.9,30.7 776.4,31.0 776.9,31.4 777.4,31.8 777.9,32.2 778.5,32.5" fill="rgb(0,210,140)"/>
<polygon points="747.5,60.4 746.5,59.5 745.6,58.6 744.6,57.7 743.7,56.8 742.8,55.9 741.9,54.9 741.0,54.0 740.1,53.0 770.8,25.8 771.2,26.3 771.7,26.8 772.1,27.2 772.5,27.7 773.0,28.1 773.5,28.6 773.9,29.0 774.4,29.4" fill="rgb(0,220,0)"/>
<polygon points="740.1,53.0 739.2,52.0 738.4,51.0 737.6,50.0 736.7,49.0 736.0,47.9 735.2,46.9 734.4,45.8 733.7,44.7 767.7,21.8 768.0,22.3 768.4,22.9 768.8,23.4 769.2,23.9 769.6,24.4 770.0,24.9 770.4,25.4 770.8,25.8" fill="rgb(160,230,50)"/>
<polygon points="733.7,44.7 733.0,43.6 732.2,42.5 731.6,41.4 730.9,40.3 730.2,39.2 729.6,38.0 729.0,36.9 728.4,35.7 765.1,17.4 765.4,18.0 765.7,18.5 766.0,19.1 766.3,19.6 766.6,20.2 767.0,20.7 767.3,21.3 767.7,21.8" fill="rgb(230,220,50)"/>
<polygon points="728.4,35.7 727.8,34.5 727.3,33.3 726.7,32.1 726.2,30.9 725.7,29.7 725.3,28.5 724.8,27.3 724.4,26.0 763.1,12.7 763.3,13.3 763.6,13.9 763.8,14.5 764.0,15.1 764.3,15.7 764.5,16.3 764.8,16.8 765.1,17.4" fill="rgb(230,175,45)"/>
<polygon points="724.4,26.0 723.9,24.8 723.5,23.6 723.2,22.3 722.8,21.0 722.5,19.8 722.2,18.5 721.9,17.2 721.6,15.9 761.8,7.8 761.9,8.4 762.1,9.0 762.2,9.6 762.4,10.3 762.5,10.9 762.7,11.5 762.9,12.1 763.1,12.7" fill="rgb(240,130,40)"/>
<polygon points="721.6,15.9 721.4,14.7 721.1,13.4 720.9,12.1 720.7,10.8 720.6,9.5 720.4,8.2 720.3,6.9 720.2,5.6 761.1,2.7 761.1,3.4 761.2,4.0 761.3,4.6 761.4,5.3 761.4,5.9 761.5,6.5 761.7,7.1 761.8,7.8" fill="rgb(250,60,60)"/>
<polygon points="720.2,5.6 720.1,3.1 720.0,0.7 720.0,-1.7 720.1,-4.2 720.3,-6.6 720.5,-9.1 720.8,-11.5 721.2,-13.9 761.6,-6.8 761.4,-5.6 761.3,-4.4 761.1,-3.2 761.1,-2.0 761.0,-0.9 761.0,0.3 761.0,1.5 761.1,2.7" fill="rgb(240,0,130)"/>
<line x1="797.6" y1="38.9" x2="795.1" y2="79.9" stroke="#fff" stroke-width="1"/>
<line x1="792.6" y1="38.3" x2="784.7" y2="78.5" stroke="#fff" stroke-width="1"/>
<line x1="787.6" y1="37.0" x2="774.6" y2="75.9" stroke="#fff" stroke-width="1"/>
<line x1="782.9" y1="35.1" x2="764.9" y2="71.9" stroke="#fff" stroke-width="1"/>
<line x1="778.5" y1="32.5" x2="755.8" y2="66.7" stroke="#fff" stroke-width="1"/>
<line x1="774.4" y1="29.4" x2="747.5" y2="60.4" stroke="#fff" stroke-width="1"/>
<line x1="770.8" y1="25.8" x2="740.1" y2="53.0" stroke="#fff" stroke-width="1"/>
<line x1="767.7" y1="21.8" x2="733.7" y2="44.7" stroke="#fff" stroke-width="1"/>
<line x1="765.1" y1="17.4" x2="728.4" y2="35.7" stroke="#fff" stroke-width="1"/>
<line x1="763.1" y1="12.7" x2="724.4" y2="26.0" stroke="#fff" stroke-width="1"/>
<line x1="761.8" y1="7.8" x2="721.6" y2="15.9" stroke="#fff" stroke-width="1"/>
<line x1="761.1" y1="2.7" x2="720.2" y2="5.6" stroke="#fff" stroke-width="1"/>
<text transform="translate(795.0,81.8) rotate(-86.5)" font-size="10.5" text-anchor="end" dominant-baseline="central">17.5</text>
<text transform="translate(784.4,80.5) rotate(-79.0)" font-size="10.5" text-anchor="end" dominant-baseline="central">18</text>
<text transform="translate(774.0,77.8) rotate(-71.5)" font-size="10.5" text-anchor="end" dominant-baseline="central">18.5</text>
<text transform="translate(764.1,73.7) rotate(-64.0)" font-size="10.5" text-anchor="end" dominant-baseline="central">19</text>
<text transform="translate(754.7,68.4) rotate(-56.5)" font-size="10.5" text-anchor="end" dominant-baseline="central">19.5</text>
<text transform="translate(746.2,61.9) rotate(-49.0)" font-size="10.5" text-anchor="end" dominant-baseline="central">20</text>
<text transform="translate(738.6,54.3) rotate(-41.5)" font-size="10.5" text-anchor="end" dominant-baseline="central">20.5</text>
<text transform="translate(732.0,45.9) rotate(-34.0)" font-size="10.5" text-anchor="end" dominant-baseline="central">21</text>
<text transform="translate(726.6,36.6) rotate(-26.5)" font-size="10.5" text-anchor="end" dominant-baseline="central">21.5</text>
<text transform="translate(722.5,26.7) rotate(-19.0)" font-size="10.5" text-anchor="end" dominant-baseline="central">22</text>
<text transform="translate(719.6,16.3) rotate(-11.5)" font-size="10.5" text-anchor="end" dominant-baseline="central">22.5</text>
<text transform="translate(718.2,5.7) rotate(-4.0)" font-size="10.5" text-anchor="end" dominant-baseline="central">23</text>
<text x="777" y="20" font-size="10">°C</text>
</svg></body></html>
